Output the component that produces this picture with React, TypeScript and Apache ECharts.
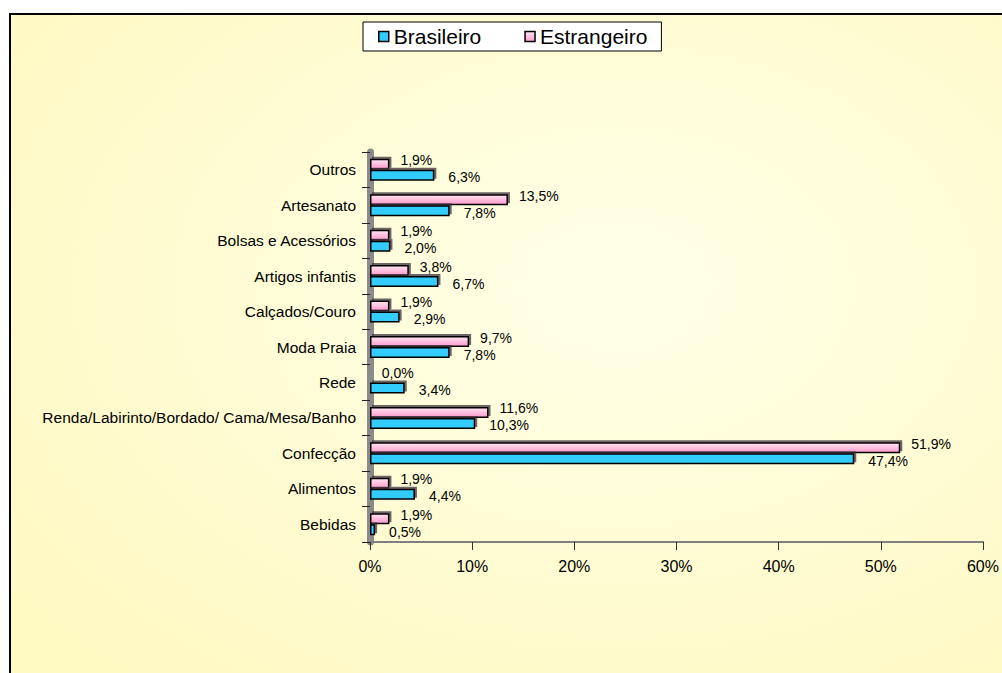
import React, { useEffect, useRef } from "react";
import * as echarts from "echarts";

const categories = [
  "Bebidas",
  "Alimentos",
  "Confecção",
  "Renda/Labirinto/Bordado/ Cama/Mesa/Banho",
  "Rede",
  "Moda Praia",
  "Calçados/Couro",
  "Artigos infantis",
  "Bolsas e Acessórios",
  "Artesanato",
  "Outros",
];
const brasileiro = [0.5, 4.4, 47.4, 10.3, 3.4, 7.8, 2.9, 6.7, 2.0, 7.8, 6.3];
const estrangeiro = [1.9, 1.9, 51.9, 11.6, 0.0, 9.7, 1.9, 3.8, 1.9, 13.5, 1.9];
const xTicks = [0, 10, 20, 30, 40, 50, 60];

const FONT = "'Liberation Sans', Arial, sans-serif";
const fmt = (v: number) => v.toFixed(1).replace(".", ",") + "%";

export default function App() {
  const ref = useRef<HTMLDivElement>(null);
  useEffect(() => {
    if (!ref.current) return;
    const chart = echarts.init(ref.current, null, { renderer: "svg" });
    const barShadow = {
      shadowColor: "rgba(60,50,60,0.75)",
      shadowOffsetX: 2,
      shadowOffsetY: -2,
      shadowBlur: 0,
    };
    chart.setOption({
      animation: false,
      textStyle: { fontFamily: FONT },
      graphic: [
        {
          type: "rect",
          z: -100,
          silent: true,
          shape: { x: 10, y: 14, width: 1010, height: 680 },
          style: {
            fill: new echarts.graphic.RadialGradient(0.6, 0.4, 0.75, [
              { offset: 0, color: "#FFFFE8" },
              { offset: 1, color: "#FFF9C2" },
            ]),
            stroke: "#000",
            lineWidth: 2,
          },
        },
      ],
      legend: {
        left: 363,
        top: 22,
        orient: "horizontal",
        backgroundColor: "#FFFFFF",
        borderColor: "#000",
        borderWidth: 1,
        padding: [4, 14, 4, 15],
        itemGap: 43,
        itemWidth: 10,
        itemHeight: 10,
        icon: "rect",
        itemStyle: { borderColor: "#000", borderWidth: 1.5, shadowBlur: 0, shadowOffsetX: 0, shadowOffsetY: 0, shadowColor: "transparent" },
        textStyle: { fontSize: 21, color: "#000", fontFamily: FONT },
        data: ["Brasileiro", "Estrangeiro"],
      },
      grid: { left: 370, right: 17, top: 152, bottom: 131, containLabel: false },
      xAxis: {
        type: "value",
        min: xTicks[0],
        max: xTicks[xTicks.length - 1],
        interval: 10,
        axisLine: { show: true, lineStyle: { color: "#808080", width: 2 } },
        axisTick: { show: true, length: 8, lineStyle: { color: "#333", width: 1 } },
        axisLabel: {
          formatter: "{value}%",
          fontSize: 16,
          color: "#000",
          margin: 16,
          fontFamily: FONT,
        },
        splitLine: { show: false },
      },
      yAxis: {
        type: "category",
        data: categories,
        axisLine: { show: true, lineStyle: { color: "#8a8a8a", width: 7 } },
        axisTick: { show: true, length: 8, alignWithLabel: false, lineStyle: { color: "#222", width: 1 } },
        axisLabel: { fontSize: 15.5, color: "#000", margin: 14, fontFamily: FONT },
        splitLine: { show: false },
      },
      series: [
        {
          name: "Estrangeiro",
          type: "bar",
          data: estrangeiro,
          barWidth: 11,
          barGap: "0%",
          itemStyle: {
            color: new echarts.graphic.LinearGradient(0, 0, 0, 1, [
              { offset: 0, color: "#FFE6F2" },
              { offset: 1, color: "#FF99CC" },
            ]),
            borderColor: "#000",
            borderWidth: 1.5,
            ...barShadow,
          },
          label: {
            show: true,
            position: "right",
            offset: [6, -4],
            formatter: (p: any) => fmt(p.value),
            fontSize: 14,
            color: "#000",
            fontFamily: FONT,
          },
        },
        {
          name: "Brasileiro",
          type: "bar",
          data: brasileiro,
          barWidth: 11,
          barGap: "0%",
          itemStyle: {
            color: "#33CCFF",
            borderColor: "#000",
            borderWidth: 1.5,
            ...barShadow,
          },
          label: {
            show: true,
            position: "right",
            offset: [9, 2],
            formatter: (p: any) => fmt(p.value),
            fontSize: 14,
            color: "#000",
            fontFamily: FONT,
          },
        },
      ],
    });
    return () => chart.dispose();
  }, []);
  return (
    <div
      ref={ref}
      style={{ position: "fixed", left: 0, top: 0, width: 1002, height: 673, background: "#fff" }}
    />
  );
}
